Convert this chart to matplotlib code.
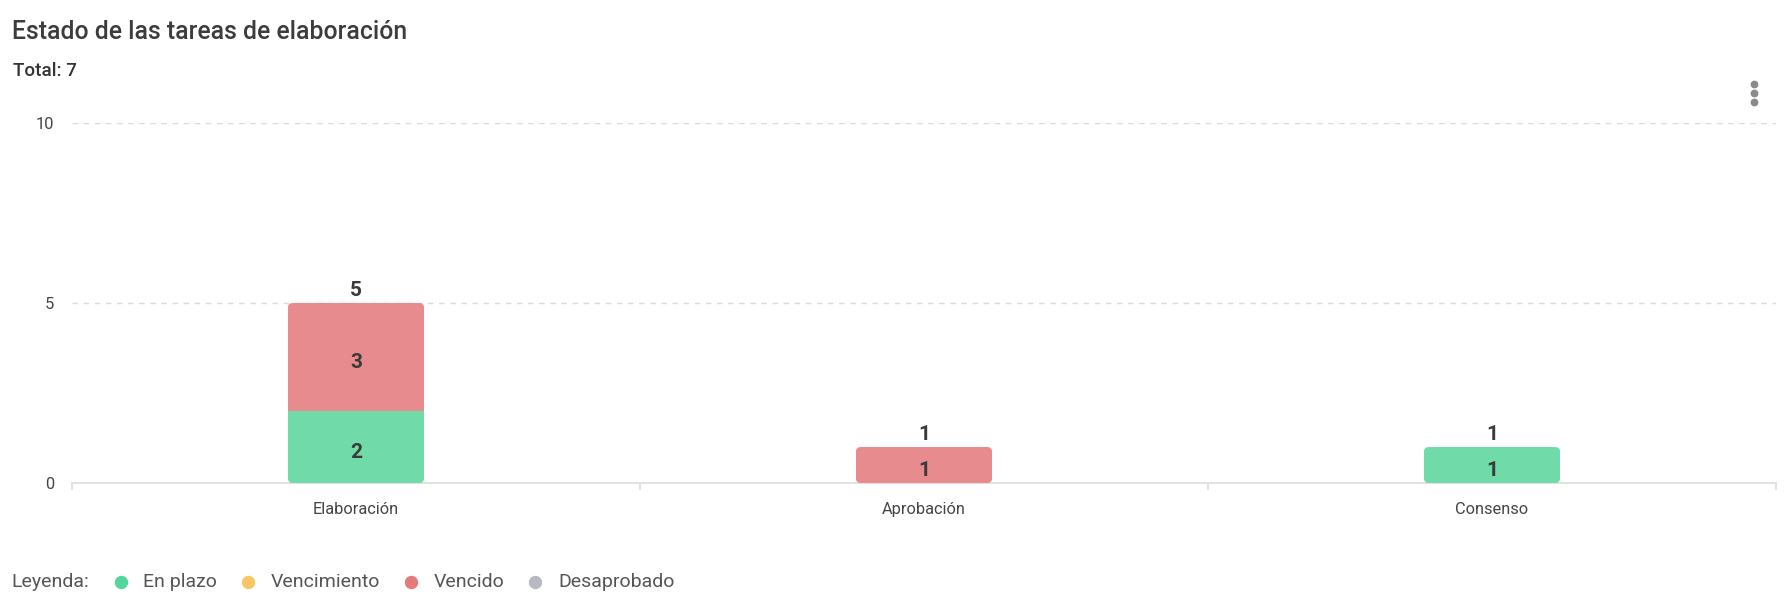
import matplotlib
matplotlib.use("Agg")
import matplotlib.pyplot as plt
from matplotlib.patches import FancyBboxPatch
from matplotlib.lines import Line2D
import numpy as np

plt.rcParams['font.family'] = ['Roboto', 'DejaVu Sans']

# ---- data ----
title = "Estado de las tareas de elaboración"
categories = ["Elaboración", "Aprobación", "Consenso"]
series_names = ["En plazo", "Vencimiento", "Vencido", "Desaprobado"]
en_plazo = [2, 0, 1]
vencimiento = [0, 0, 0]
vencido = [3, 1, 0]
desaprobado = [0, 0, 0]
yticks = [0, 5, 10]

bar_colors = ["#70DBA9", "#F7CB72", "#E88B8F", "#BCBDC4"]
legend_colors = ["#52D69A", "#F7C765", "#E57A7A", "#B8B9C0"]

W, H, DPI = 1785, 608, 100
fig = plt.figure(figsize=(W / DPI, H / DPI), dpi=DPI)
fig.patch.set_facecolor("white")

# axes placement in pixels
ax_left, ax_right, ax_top, ax_bottom = 72, 1776, 123, 483
ax = fig.add_axes([ax_left / W, (H - ax_bottom) / H,
                   (ax_right - ax_left) / W, (ax_bottom - ax_top) / H])

series = [en_plazo, vencimiento, vencido, desaprobado]
x = np.arange(len(categories))
bar_w = 0.24
ax.set_xlim(-0.5, len(categories) - 0.5)
ax.set_ylim(0, 10)

totals = np.sum(series, axis=0)
bottoms = np.zeros(len(categories))
all_rects = []
for vals, col in zip(series, bar_colors):
    rects = ax.bar(x, vals, bar_w, bottom=bottoms, color=col, zorder=3, linewidth=0)
    all_rects.append(rects)
    for i, (r, v) in enumerate(zip(rects, vals)):
        if v > 0:
            ax.annotate(str(v), (r.get_x() + r.get_width() / 2, bottoms[i] + v / 2),
                        xytext=(0, -5), textcoords="offset pixels",
                        ha="center", va="center", fontsize=15, fontweight="bold",
                        color="#3a3a3a", zorder=5)
    bottoms = bottoms + np.array(vals)

# rounded clipping for each stack
px_per_x = (ax_right - ax_left) / (len(categories))
px_per_y = (ax_bottom - ax_top) / 10.0
radius_px = 5
rx = radius_px / px_per_x
aspect = px_per_x / px_per_y
for i in range(len(categories)):
    if totals[i] <= 0:
        continue
    clip = FancyBboxPatch((x[i] - bar_w / 2, 0), bar_w, totals[i],
                          boxstyle=f"round,pad=0,rounding_size={rx}",
                          mutation_aspect=aspect, transform=ax.transData,
                          facecolor="none", edgecolor="none")
    ax.add_patch(clip)
    clip.set_visible(False)
    for rects in all_rects:
        rects[i].set_clip_path(clip)
    ax.annotate(str(int(totals[i])), (x[i], totals[i]), xytext=(0, 13),
                textcoords="offset pixels", ha="center", va="center",
                fontsize=15, fontweight="bold", color="#3a3a3a", zorder=5)

# grid
for yv in yticks[1:]:
    ax.axhline(yv, color="#DADADA", linewidth=1, linestyle=(0, (4, 4)), zorder=1)

for s in ["top", "right", "left"]:
    ax.spines[s].set_visible(False)
ax.spines["bottom"].set_color("#DCDCDC")
ax.spines["bottom"].set_linewidth(1.2)

ax.set_yticks(yticks)
ax.set_yticklabels([str(v) for v in yticks])
ax.tick_params(axis="y", length=0, pad=13, labelsize=11.8, labelcolor="#444444")
ax.set_xticks(x)
ax.set_xticklabels(categories)
ax.tick_params(axis="x", which="major", length=0, pad=14, labelsize=11.8, labelcolor="#444444")
ax.set_xticks(np.arange(len(categories) + 1) - 0.5, minor=True)
ax.tick_params(axis="x", which="minor", length=5, width=1.2, color="#DCDCDC")

# title & total
fig.text(12 / W, 1 - 32 / H, title, fontsize=17.8, fontweight="medium", color="#3c3c3c",
         ha="left", va="center")
fig.text(13 / W, 1 - 71 / H, f"Total: {int(totals.sum())}", fontsize=13.5,
         fontweight="medium", color="#333333", ha="left", va="center")

# menu dots
for yy in [84, 93, 102]:
    fig.add_artist(Line2D([1754 / W], [1 - yy / H], marker="o", markersize=4.6,
                          color="#8A8A8A", linestyle="none", transform=fig.transFigure))

# legend
leg_y = 1 - 582 / H
fig.text(11 / W, leg_y, "Leyenda:", fontsize=14, color="#555555", ha="left", va="center")
circle_x = [121, 248, 411, 535]
text_x = [143, 271, 434, 558]
for name, col, cx, tx in zip(series_names, legend_colors, circle_x, text_x):
    fig.add_artist(Line2D([cx / W], [leg_y], marker="o", markersize=8.6,
                          color=col, linestyle="none", transform=fig.transFigure))
    fig.text(tx / W, leg_y, name, fontsize=14, color="#555555", ha="left", va="center")

fig.savefig("out.png", dpi=DPI, facecolor="white")
